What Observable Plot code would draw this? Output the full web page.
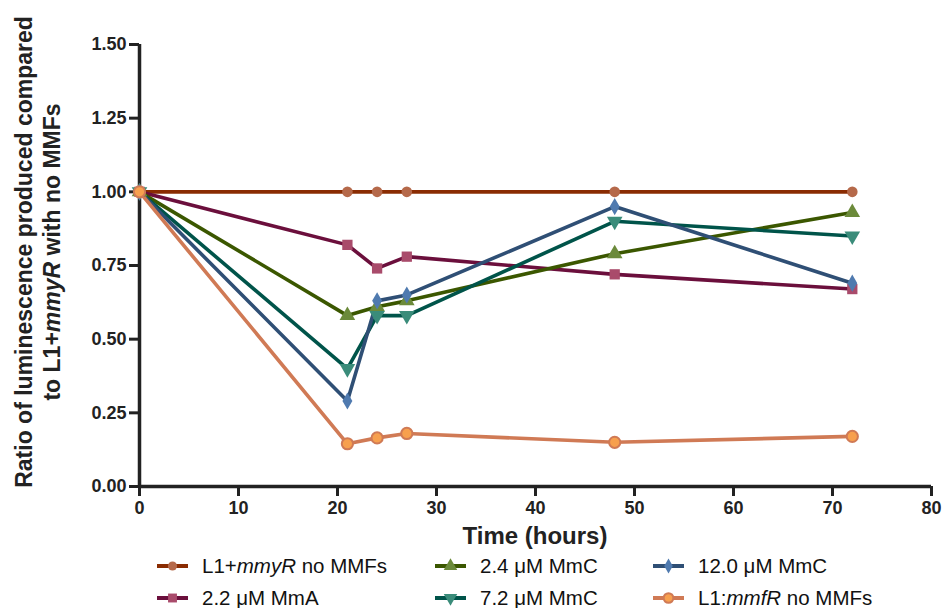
<!DOCTYPE html>
<html>
<head>
<meta charset="utf-8">
<script src="https://cdn.jsdelivr.net/npm/d3@7"></script>
<script src="https://cdn.jsdelivr.net/npm/@observablehq/plot@0.6"></script>
<style>
  body { margin: 0; background: #fff; }
  #wrap { position: relative; width: 943px; height: 608px; overflow: hidden; font-family: "Liberation Sans", Arial, sans-serif; }
  .leg { position: absolute; display: flex; align-items: center; font-size: 20.5px; color: #111; white-space: nowrap; }
  .leg svg { margin-right: 13px; }
</style>
</head>
<body>
<div id="wrap"></div>
<script>
const hours = [0, 21, 24, 27, 48, 72];
const seriesNames = ["L1+mmyR no MMFs", "2.2 μM MmA", "2.4 μM MmC", "7.2 μM MmC", "12.0 μM MmC", "L1:mmfR no MMFs"];
const ctrlValues  = [1.00, 1.00, 1.00, 1.00, 1.00, 1.00];
const mmaValues   = [1.00, 0.82, 0.74, 0.78, 0.72, 0.67];
const mmc24Values = [1.00, 0.58, 0.61, 0.63, 0.79, 0.93];
const mmc72Values = [1.00, 0.40, 0.58, 0.58, 0.90, 0.85];
const mmc120Values= [1.00, 0.29, 0.63, 0.65, 0.95, 0.69];
const mmfRValues  = [1.00, 0.145, 0.165, 0.18, 0.15, 0.17];
const xTicks = [0, 10, 20, 30, 40, 50, 60, 70, 80];
const yTicks = [0, 0.25, 0.5, 0.75, 1.0, 1.25, 1.5];

const allValues = [ctrlValues, mmaValues, mmc24Values, mmc72Values, mmc120Values, mmfRValues];
const styles = [
  {line: "#8a2c02", fill: "#b5694a", stroke: "none", sw: 0, symbol: "circle", r: 5.3, rotate: 0},
  {line: "#6b0f3c", fill: "#a94b6b", stroke: "none", sw: 0, symbol: "square", r: 5.8, rotate: 0},
  {line: "#3b5700", fill: "#6b8a3a", stroke: "none", sw: 0, symbol: "triangle", r: 5.8, rotate: 0},
  {line: "#00544a", fill: "#3a8c7a", stroke: "none", sw: 0, symbol: "triangle", r: 5.8, rotate: 180},
  {line: "#2f4f75", fill: "#4f7aaf", stroke: "none", sw: 0, symbol: "diamond", r: 5.2, rotate: 0},
  {line: "#d07a55", fill: "#f7a04e", stroke: "#d07a55", sw: 2, symbol: "circle", r: 5.6, rotate: 0}
];

const table = seriesNames.map((name, i) => hours.map((h, j) => ({series: name, hours: h, value: allValues[i][j]})));

const marks = [
  Plot.axisX({ticks: xTicks, tickSize: 10, strokeWidth: 3, fontSize: 18, fontWeight: "bold", tickPadding: 5, label: null, fill: "#222"}),
  Plot.axisY({ticks: yTicks, tickSize: 10, strokeWidth: 3, fontSize: 18, fontWeight: "bold", tickPadding: 3, tickFormat: d3.format(".2f"), label: null, fill: "#222"}),
  Plot.ruleX([0], {stroke: "#222", strokeWidth: 3.5}),
  Plot.ruleY([0], {stroke: "#222", strokeWidth: 3.5})
];
table.forEach((rows, i) => {
  const s = styles[i];
  marks.push(Plot.line(rows, {x: "hours", y: "value", stroke: s.line, strokeWidth: 3.6}));
});
table.forEach((rows, i) => {
  const s = styles[i];
  marks.push(Plot.dot(rows, {x: "hours", y: "value", symbol: s.symbol, r: s.r, fill: s.fill, stroke: s.stroke, strokeWidth: s.sw, rotate: s.rotate}));
});

const chart = Plot.plot({
  width: 943,
  height: 555,
  marginLeft: 139,
  marginRight: 12,
  marginTop: 44,
  marginBottom: 69,
  x: {domain: [0, 80]},
  y: {domain: [0, 1.5]},
  style: {fontFamily: "Liberation Sans, Arial, sans-serif", background: "#fff", color: "#222"},
  marks
});
chart.style.position = "absolute";
chart.style.left = "0px";
chart.style.top = "0px";
const wrap = document.getElementById("wrap");
wrap.appendChild(chart);

// axis titles
const svg = d3.select(chart);
svg.append("text")
  .attr("x", 535).attr("y", 544)
  .attr("text-anchor", "middle")
  .attr("font-size", 24).attr("font-weight", "bold").attr("fill", "#222")
  .text("Time (hours)");
const yl = svg.append("text")
  .attr("transform", "translate(32,252) rotate(-90)")
  .attr("text-anchor", "middle")
  .attr("font-size", 23).attr("font-weight", "bold").attr("fill", "#222");
yl.append("tspan").attr("x", 0).attr("y", 0).text("Ratio of luminescence produced compared");
const t2 = yl.append("tspan").attr("x", 0).attr("y", 28);
t2.text("to L1+");
yl.append("tspan").attr("font-style", "italic").text("mmyR");
yl.append("tspan").text(" with no MMFs");

// legend
const legendPos = [
  {x: 156, y: 566}, {x: 156, y: 598},
  {x: 434, y: 566}, {x: 434, y: 598},
  {x: 652, y: 566}, {x: 652, y: 598}
];
const legendLabels = ["L1+<i>mmyR</i> no MMFs", "2.2 μM MmA", "2.4 μM MmC", "7.2 μM MmC", "12.0 μM MmC", "L1:<i>mmfR</i> no MMFs"];
seriesNames.forEach((name, i) => {
  const s = styles[i];
  const p = legendPos[i];
  const size = Math.PI * s.r * s.r * 0.75;
  const sym = {circle: d3.symbolCircle, square: d3.symbolSquare, triangle: d3.symbolTriangle, diamond: d3.symbolDiamond}[s.symbol];
  const path = d3.symbol(sym, size)();
  const div = document.createElement("div");
  div.className = "leg";
  div.style.left = p.x + "px";
  div.style.top = (p.y - 13) + "px";
  div.style.height = "26px";
  div.innerHTML = `<svg width="33" height="26"><line x1="1" x2="32" y1="13" y2="13" stroke="${s.line}" stroke-width="4"/>` +
    `<path d="${path}" transform="translate(16.5,13) rotate(${s.rotate})" fill="${s.fill}" stroke="${s.stroke}" stroke-width="${s.sw}"/></svg>` +
    `<span>${legendLabels[i]}</span>`;
  wrap.appendChild(div);
});
</script>
</body>
</html>
